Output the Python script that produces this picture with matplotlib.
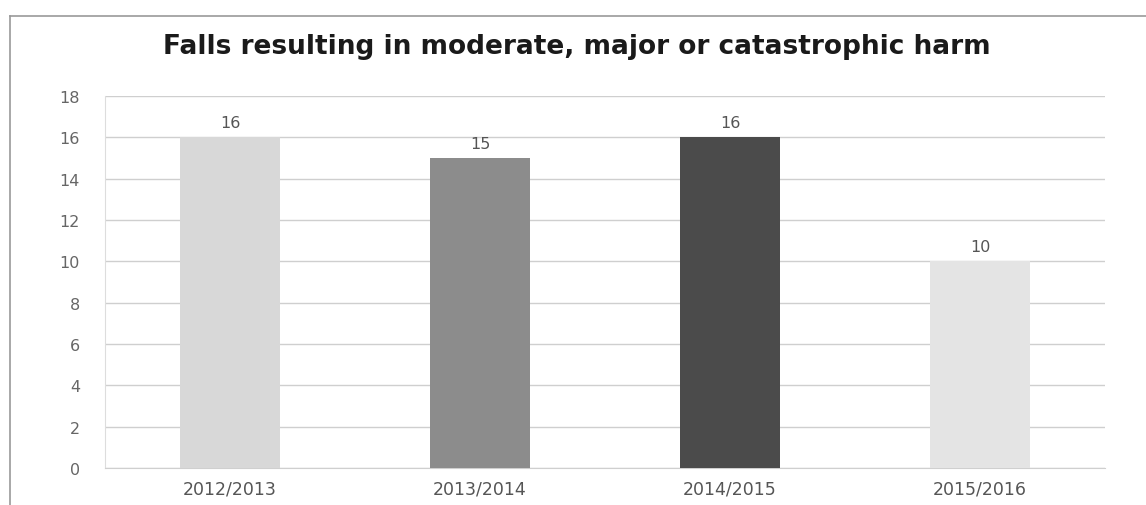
import matplotlib
matplotlib.use("Agg")
import matplotlib.pyplot as plt
from matplotlib.lines import Line2D

categories = ["2012/2013", "2013/2014", "2014/2015", "2015/2016"]
values = [16, 15, 16, 10]
bar_colors = ["#d8d8d8", "#8c8c8c", "#4b4b4b", "#e4e4e4"]
yticks = [0, 2, 4, 6, 8, 10, 12, 14, 16, 18]

fig = plt.figure(figsize=(11.46, 5.06), dpi=100)
W, H = 1146, 506
ax = fig.add_axes([105 / W, 1 - 469 / H, 1000 / W, (469 - 97) / H])

x = list(range(len(categories)))
bars = ax.bar(x, values, width=0.4, color=bar_colors, zorder=3)
for xi, v in zip(x, values):
    ax.text(xi, v + 0.35, str(v), ha="center", va="bottom", fontsize=11.5,
            color="#555555", family="DejaVu Sans")

ax.set_xlim(-0.5, len(categories) - 0.5)
ax.set_ylim(0, 18)
ax.set_yticks(yticks)
ax.set_yticklabels([str(t) for t in yticks], family="DejaVu Sans", fontsize=11.5, color="#666666")
ax.set_xticks(x)
ax.set_xticklabels(categories, family="DejaVu Sans", fontsize=12.5, color="#555555")
ax.tick_params(axis="y", length=0, pad=18)
ax.tick_params(axis="x", length=0, pad=8)
ax.grid(axis="y", color="#cfcfcf", linewidth=1.0, zorder=0)
for s in ["top", "right"]:
    ax.spines[s].set_visible(False)
ax.spines["left"].set_color("#dddddd")
ax.spines["bottom"].set_color("#cfcfcf")

fig.text(577 / W, 1 - 47 / H, "Falls resulting in moderate, major or catastrophic harm",
         ha="center", va="center", fontsize=19, fontweight="bold", family="DejaVu Sans",
         color="#1a1a1a")

# outer border of the chart area
fig.add_artist(Line2D([10 / W, 1.0], [1 - 17 / H, 1 - 17 / H], transform=fig.transFigure,
                      color="#999999", linewidth=1.2))
fig.add_artist(Line2D([10 / W, 10 / W], [1 - 17 / H, 0], transform=fig.transFigure,
                      color="#999999", linewidth=1.2))

fig.savefig("out.png", dpi=100)
